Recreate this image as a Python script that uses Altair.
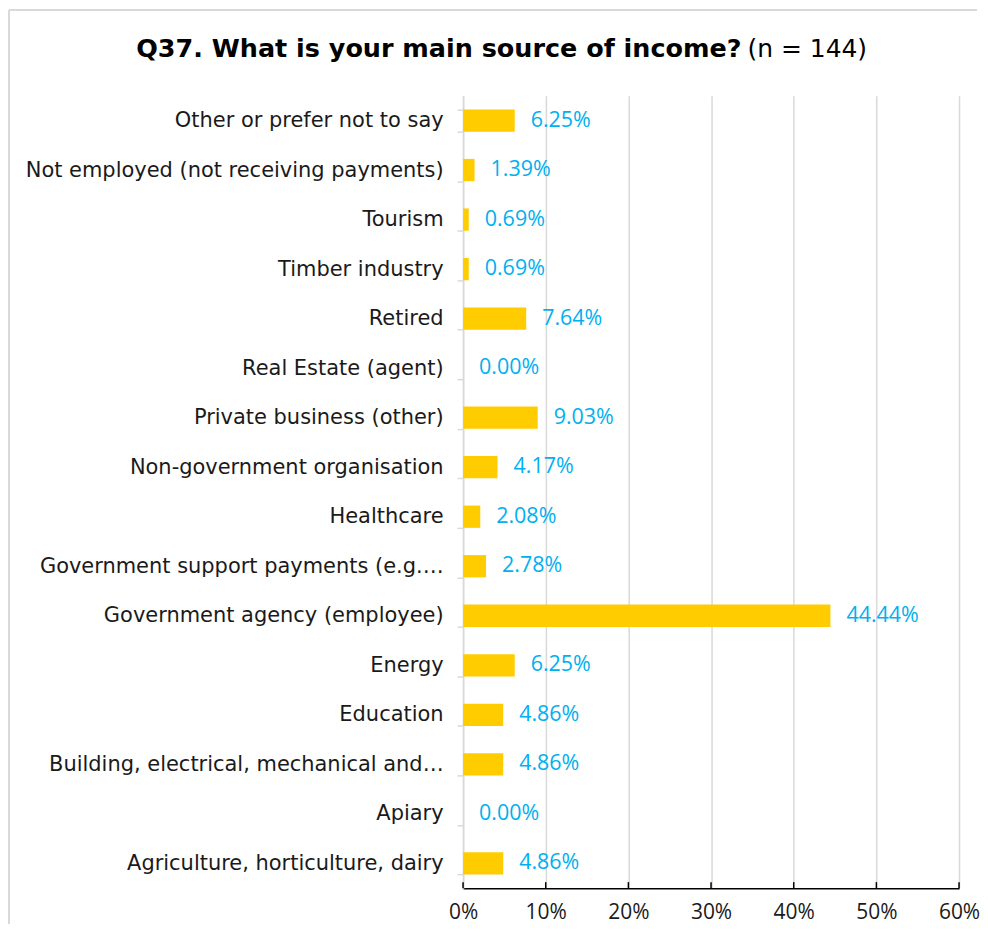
import altair as alt
import pandas as pd

categories = [
    "Other or prefer not to say",
    "Not employed (not receiving payments)",
    "Tourism",
    "Timber industry",
    "Retired",
    "Real Estate (agent)",
    "Private business (other)",
    "Non-government organisation",
    "Healthcare",
    "Government support payments (e.g.\u2026",
    "Government agency (employee)",
    "Energy",
    "Education",
    "Building, electrical, mechanical and\u2026",
    "Apiary",
    "Agriculture, horticulture, dairy",
]
percents = [6.25, 1.39, 0.69, 0.69, 7.64, 0.00, 9.03, 4.17, 2.08, 2.78, 44.44, 6.25, 4.86, 4.86, 0.00, 4.86]
x_ticks = [0, 0.1, 0.2, 0.3, 0.4, 0.5, 0.6]

title_bold = "Q37. What is your main source of income?"
title_normal = "(n = 144)"

W, H = 497, 794

df = pd.DataFrame({"category": categories, "value": [p / 100 for p in percents]})
df["label"] = [f"{p:.2f}%" for p in percents]

y_enc = alt.Y(
    "category:N",
    sort=categories,
    title=None,
    scale=alt.Scale(paddingInner=0.55, paddingOuter=0.275),
    axis=alt.Axis(
        labelFont="DejaVu Sans",
        labelFontSize=21,
        labelColor="#1a1a1a",
        labelPadding=14,
        labelLimit=500,
        domainColor="#d9d9d9",
        domainWidth=1.5,
        tickColor="#d9d9d9",
        tickWidth=1.5,
        tickSize=6,
        tickBand="extent",
        grid=False,
    ),
)

x_enc = alt.X(
    "value:Q",
    title=None,
    scale=alt.Scale(domain=[0, 0.6], nice=False),
    axis=alt.Axis(
        values=x_ticks,
        format=".0%",
        labelFont="Open Sans",
        labelFontSize=21,
        labelColor="#1a1a1a",
        labelPadding=13,
        labelFlush=False,
        domainColor="#000000",
        domainWidth=1.5,
        ticks=False,
        grid=True,
        gridColor="#d9d9d9",
        gridWidth=1.5,
    ),
)

bars = alt.Chart(df).mark_bar(color="#FFCC00").encode(x=x_enc, y=y_enc)

labels = alt.Chart(df).mark_text(
    align="left", baseline="middle", dx=16, font="Open Sans", fontSize=21.5, color="#00B0F0"
).encode(x="value:Q", y=alt.Y("category:N", sort=categories), text="label:N")

tick_df = pd.DataFrame({"t": x_ticks})
inner_ticks = alt.Chart(tick_df).mark_rule(color="#000000", strokeWidth=1.5).encode(
    x="t:Q", y=alt.value(H - 6), y2=alt.value(H)
)

one = pd.DataFrame({"a": [0]})
title_b = alt.Chart(one).mark_text(
    align="right", baseline="middle", font="DejaVu Sans", fontWeight="bold", fontSize=25.5, color="#000000"
).encode(x=alt.value(279), y=alt.value(-47), text=alt.value(title_bold))
title_n = alt.Chart(one).mark_text(
    align="left", baseline="middle", font="DejaVu Sans", fontSize=25, color="#000000"
).encode(x=alt.value(285), y=alt.value(-47), text=alt.value(title_normal))

frame_top = alt.Chart(one).mark_rule(color="#d9d9d9", strokeWidth=2).encode(
    x=alt.value(-455), x2=alt.value(W + 18), y=alt.value(-86)
)
frame_left = alt.Chart(one).mark_rule(color="#d9d9d9", strokeWidth=2).encode(
    x=alt.value(-455), y=alt.value(-86), y2=alt.value(H + 36)
)

chart = (
    alt.layer(frame_top, frame_left, bars, labels, inner_ticks, title_b, title_n)
    .properties(
        width=W,
        height=H,
        padding={"left": 0, "top": 0, "right": 0, "bottom": 3},
        view=alt.ViewBackground(stroke="transparent", strokeWidth=0),
    )
    .configure_view(strokeWidth=0, stroke="transparent")
    .configure(background="#ffffff")
)

chart.save("out.html", embed_options={"renderer": "svg", "actions": False})
